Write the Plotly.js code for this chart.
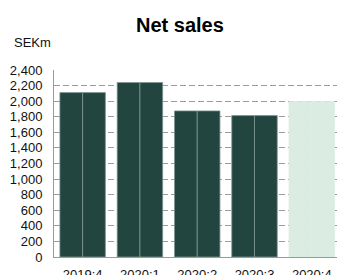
<!DOCTYPE html>
<html>
<head>
<meta charset="utf-8">
<script src="https://cdn.plot.ly/plotly-3.0.1.min.js"></script>
<style>html,body{margin:0;padding:0;background:#fff;}#chart{width:337px;height:275px;}</style>
</head>
<body>
<div id="chart"></div>
<script>
var categories = ['2019:4', '2020:1', '2020:2', '2020:3', '2020:4'];
var netSales = [2110, 2240, 1875, 1815, 1995];
var barColors = ['#224540', '#224540', '#224540', '#224540', '#dbece2'];
var barEdgeColors = ['#7f9791', '#7f9791', '#7f9791', '#7f9791', '#dbece2'];
var yTicks = [0, 200, 400, 600, 800, 1000, 1200, 1400, 1600, 1800, 2000, 2200, 2400];

function half() {
  return {
    type: 'bar',
    x: categories,
    y: netSales,
    marker: {color: barColors, line: {color: barEdgeColors, width: 0.8}},
    hoverinfo: 'skip'
  };
}

var layout = {
  width: 337, height: 275,
  margin: {l: 54, r: 0, t: 70, b: 18},
  paper_bgcolor: '#fff', plot_bgcolor: '#fff',
  showlegend: false,
  barmode: 'group', bargap: 0.206, bargroupgap: 0,
  font: {family: 'Liberation Sans, Arial, sans-serif', size: 13, color: '#111'},
  title: {
    text: '<b>Net sales</b>',
    font: {family: 'Liberation Sans, Arial, sans-serif', size: 20, color: '#000'},
    xref: 'container', x: 0.534, xanchor: 'center',
    yref: 'container', y: 0.909, yanchor: 'middle'
  },
  xaxis: {
    type: 'category',
    range: [-0.5, 4.44],
    showgrid: false, zeroline: false,
    showline: true, linecolor: '#9a9a9a', linewidth: 1,
    ticks: 'outside', ticklen: 5, tickcolor: 'rgba(0,0,0,0)',
    tickfont: {size: 13, color: '#111'},
    fixedrange: true
  },
  yaxis: {
    range: [0, 2400],
    tickvals: yTicks,
    tickformat: ',d',
    showgrid: true, gridcolor: '#9c9c9c', gridwidth: 1, griddash: '6px,3px',
    zeroline: false,
    showline: true, linecolor: '#9a9a9a', linewidth: 1,
    ticks: 'outside', ticklen: 8, tickcolor: 'rgba(0,0,0,0)',
    tickfont: {size: 13, color: '#111'},
    fixedrange: true
  },
  annotations: [{
    text: 'SEKm', xref: 'paper', yref: 'paper',
    x: -0.148, y: 1.147, xanchor: 'left', yanchor: 'middle',
    showarrow: false, font: {size: 13, color: '#111'}
  }]
};

Plotly.newPlot('chart', [half(), half()], layout, {displayModeBar: false, staticPlot: true});
</script>
</body>
</html>
